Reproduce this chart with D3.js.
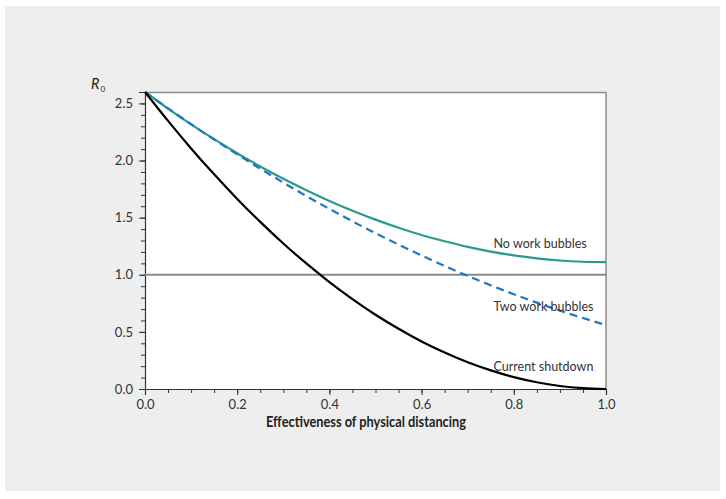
<!DOCTYPE html>
<html>
<head>
<meta charset="utf-8">
<script src="https://cdn.jsdelivr.net/npm/d3@7"></script>
<style>
  body { margin: 0; background: #fff; }
  text { font-family: Lato, "Noto Sans", sans-serif; }
</style>
</head>
<body>
<div id="chart"></div>
<script>
// Effectiveness of physical distancing (x values)
const xValues = [0, 0.05, 0.1, 0.15, 0.2, 0.25, 0.3, 0.35, 0.4, 0.45, 0.5,
  0.55, 0.6, 0.65, 0.7, 0.75, 0.8, 0.85, 0.9, 0.95, 1.0];

// R0 for each scenario
const noWorkBubbles = [2.600, 2.455, 2.317, 2.187, 2.064, 1.948, 1.840, 1.740, 1.646, 1.561, 1.483,
  1.412, 1.348, 1.293, 1.244, 1.203, 1.170, 1.144, 1.125, 1.114, 1.110];
const twoWorkBubbles = [2.600, 2.457, 2.318, 2.184, 2.054, 1.928, 1.807, 1.689, 1.577, 1.468, 1.364,
  1.264, 1.169, 1.077, 0.991, 0.908, 0.830, 0.756, 0.686, 0.621, 0.560];
const currentShutdown = [2.600, 2.347, 2.106, 1.879, 1.664, 1.463, 1.274, 1.099, 0.936, 0.787, 0.650,
  0.527, 0.416, 0.319, 0.234, 0.163, 0.104, 0.059, 0.026, 0.007, 0.000];

const xTicks = [0, 0.2, 0.4, 0.6, 0.8, 1.0];
const yTicks = [0, 0.5, 1.0, 1.5, 2.0, 2.5];
const threshold = 1.0;

const width = 726, height = 499;
const margin = { top: 92, right: 120, bottom: 110, left: 145 };
const innerW = width - margin.left - margin.right;
const innerH = height - margin.top - margin.bottom;

const svg = d3.select('#chart')
  .append('svg')
  .attr('width', width)
  .attr('height', height);

// Grey panel behind the chart
svg.append('rect')
  .attr('x', 5).attr('y', 6)
  .attr('width', 715).attr('height', 485)
  .attr('fill', '#edeeed');

const g = svg.append('g')
  .attr('transform', `translate(${margin.left},${margin.top})`);

const x = d3.scaleLinear().domain([0, 1]).range([0, innerW]);
const y = d3.scaleLinear().domain([0, 2.6]).range([innerH, 0]);

// Plot area
g.append('rect')
  .attr('width', innerW).attr('height', innerH)
  .attr('fill', '#fff');

// Frame top and right
g.append('path')
  .attr('d', `M0,0.5H${innerW}V${innerH}`)
  .attr('fill', 'none')
  .attr('stroke', '#8a8a8a')
  .attr('stroke-width', 1.5);

// Minor ticks
const xMinor = d3.range(0, 1.0001, 0.05);
const yMinor = d3.range(0, 2.6001, 0.1);

g.append('g')
  .attr('transform', `translate(0,${innerH})`)
  .call(d3.axisBottom(x).tickValues(xMinor).tickSize(4).tickFormat(''))
  .call(a => a.select('.domain').remove())
  .selectAll('line').attr('stroke', '#333');

g.append('g')
  .call(d3.axisLeft(y).tickValues(yMinor).tickSize(4).tickFormat(''))
  .call(a => a.select('.domain').remove())
  .selectAll('line').attr('stroke', '#333');

// Major axes
const xAxis = g.append('g')
  .attr('transform', `translate(0,${innerH})`)
  .call(d3.axisBottom(x).tickValues(xTicks).tickSize(6).tickPadding(5).tickFormat(d3.format('.1f')));
xAxis.select('.domain').attr('stroke', '#333').attr('stroke-width', 1.2);
xAxis.selectAll('line').attr('stroke', '#333');
xAxis.selectAll('text').attr('font-size', 13).attr('fill', '#333');

const yAxis = g.append('g')
  .call(d3.axisLeft(y).tickValues(yTicks).tickSize(6).tickPadding(6).tickFormat(d3.format('.1f')));
yAxis.select('.domain').attr('stroke', '#333').attr('stroke-width', 1.2);
yAxis.selectAll('line').attr('stroke', '#333');
yAxis.selectAll('text').attr('font-size', 13).attr('fill', '#333');

// R0 = 1 reference line
g.append('line')
  .attr('x1', 0).attr('x2', innerW)
  .attr('y1', y(threshold)).attr('y2', y(threshold))
  .attr('stroke', '#8a8a8a')
  .attr('stroke-width', 2);

const series = [
  { name: 'No work bubbles', values: noWorkBubbles, color: '#2a9a8c', dash: null, labelY: 1.235 },
  { name: 'Two work bubbles', values: twoWorkBubbles, color: '#1f77c4', dash: '8,5', labelY: 0.68 },
  { name: 'Current shutdown', values: currentShutdown, color: '#000', dash: null, labelY: 0.16 }
];

const line = d3.line()
  .x((d, i) => x(xValues[i]))
  .y(d => y(d))
  .curve(d3.curveMonotoneX);

g.selectAll('.series')
  .data(series)
  .enter().append('path')
  .attr('class', 'series')
  .attr('d', d => line(d.values))
  .attr('fill', 'none')
  .attr('stroke', d => d.color)
  .attr('stroke-width', 2.2)
  .attr('stroke-dasharray', d => d.dash);

g.selectAll('.series-label')
  .data(series)
  .enter().append('text')
  .attr('class', 'series-label')
  .attr('x', x(0.756))
  .attr('y', d => y(d.labelY))
  .attr('font-size', 12.5)
  .attr('fill', '#333')
  .text(d => d.name);

// Axis titles
svg.append('text')
  .attr('x', 266)
  .attr('y', 427)
  .attr('font-size', 14.5)
  .attr('font-weight', 'bold')
  .attr('fill', '#222')
  .attr('textLength', 200)
  .attr('lengthAdjust', 'spacingAndGlyphs')
  .text('Effectiveness of physical distancing');

const r0 = svg.append('text')
  .attr('x', 91)
  .attr('y', 89)
  .attr('font-size', 14.5)
  .attr('fill', '#222');
r0.append('tspan').attr('font-style', 'italic').text('R');
r0.append('tspan').attr('font-size', 8).attr('dy', 3).attr('dx', 1).text('0');
</script>
</body>
</html>
